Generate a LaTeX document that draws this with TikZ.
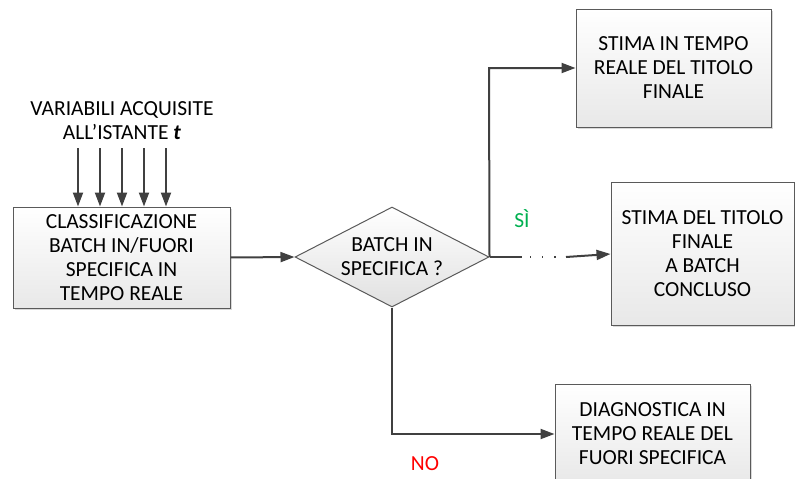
\documentclass[tikz,border=0pt]{standalone}
\usepackage{fontspec}
\setmainfont{Carlito}
\usetikzlibrary{shapes.geometric,arrows.meta,shadows}
\definecolor{linegray}{HTML}{404040}
\definecolor{edgegray}{HTML}{5A5A5A}
\definecolor{siGreen}{HTML}{00B050}
\begin{document}
\begin{tikzpicture}[x=1pt,y=-1pt,
  font=\fontsize{21.5}{24}\selectfont,
  procbox/.style={draw=edgegray, line width=1pt, top color=white, bottom color=black!9,
    drop shadow={shadow xshift=1.5pt, shadow yshift=-1.5pt, fill=black!25, opacity=0.6},
    align=center, inner sep=0pt},
  flow/.style={draw=linegray, line width=2pt,
    -{Triangle[length=14pt,width=10pt]}},
  plainline/.style={draw=linegray, line width=2pt}]
\useasboundingbox (0,0) rectangle (795,479);

% process boxes
\node[procbox, minimum width=217pt, minimum height=101pt] (classif) at (121.5,257.5)
  {CLASSIFICAZIONE\\BATCH IN/FUORI\\SPECIFICA IN\\TEMPO REALE};
\node[procbox, minimum width=195pt, minimum height=118pt] (realtime) at (673.5,68)
  {STIMA IN TEMPO\\REALE DEL TITOLO\\FINALE};
\node[procbox, minimum width=183pt, minimum height=143pt] (final) at (702.5,254)
  {STIMA DEL TITOLO\\FINALE\\A BATCH\\CONCLUSO};
\node[procbox, minimum width=195pt, minimum height=100pt] (diag) at (652.5,434) {};
\node[align=center] (diagtext) at (652.5,434) {DIAGNOSTICA IN\\TEMPO REALE DEL\\FUORI SPECIFICA};

% decision
\node[diamond, draw=edgegray, line width=1pt, top color=white, bottom color=black!12,
  aspect=2, inner sep=0pt, minimum width=194pt, minimum height=100pt, align=center]
  (check) at (392,257) {};
\node[align=center] (checktext) at (392,257) {BATCH IN\\SPECIFICA ?};

% acquired variables
\node[align=center] (vars) at (122,121) {VARIABILI ACQUISITE\\ALL’ISTANTE \textbf{\textit{t}}};
\foreach \i/\x in {1/78,2/100,3/122,4/144,5/166}{
  \coordinate (in\i) at (\x,148);
  \draw[flow] (in\i) -- (in\i |- classif.north);
}

% connectors
\draw[flow] (classif.east) -- (check.west);
\coordinate (up) at (489,68);
\draw[flow] (check.east) -- (up) -- (realtime.west);
\coordinate (solidend) at (522,257);
\coordinate (dotend) at (566,257);
\draw[plainline] (check.east) -- (solidend);
\draw[draw=linegray, line width=1.2pt, dash pattern=on 1.2pt off 11pt] ([xshift=8pt]solidend) -- (dotend);
\draw[flow] (dotend) -- (final.west);
\coordinate (down) at (392,434);
\draw[flow] (check.south) -- (down) -- (diag.west);

% branch labels
\node[text=siGreen] (yes) at (522,219) {SÌ};
\node[text=red] (no) at (425,464) {NO};
\end{tikzpicture}
\end{document}
